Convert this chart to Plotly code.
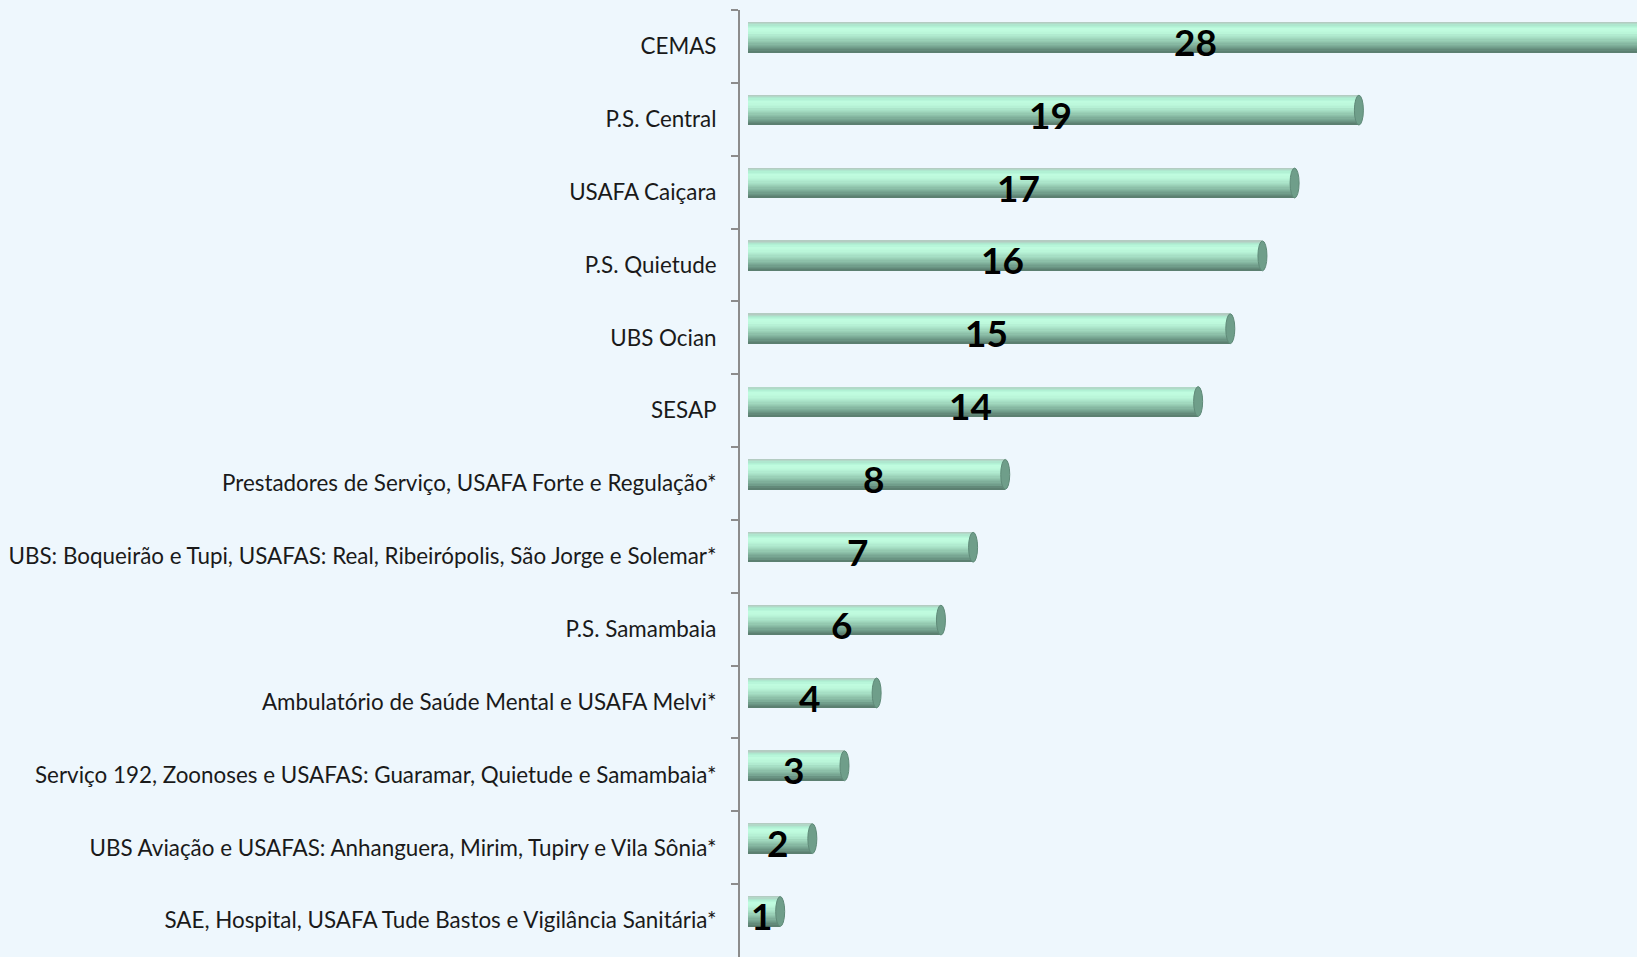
import plotly.graph_objects as go

categories = [
    "CEMAS",
    "P.S. Central",
    "USAFA Caiçara",
    "P.S. Quietude",
    "UBS Ocian",
    "SESAP",
    "Prestadores de Serviço, USAFA Forte e Regulação*",
    "UBS: Boqueirão e Tupi, USAFAS: Real, Ribeirópolis, São Jorge e Solemar*",
    "P.S. Samambaia",
    "Ambulatório de Saúde Mental e USAFA Melvi*",
    "Serviço 192, Zoonoses e USAFAS: Guaramar, Quietude e Samambaia*",
    "UBS Aviação e USAFAS: Anhanguera, Mirim, Tupiry e Vila Sônia*",
    "SAE, Hospital, USAFA Tude Bastos e Vigilância Sanitária*",
]
values = [28, 19, 17, 16, 15, 14, 8, 7, 6, 4, 3, 2, 1]
value_labels = [str(v) for v in values]

# cylinder shading key colours, top to bottom
key_colors = [
    (0xb4, 0xcc, 0xc2), (0xae, 0xee, 0xd2), (0xc0, 0xfd, 0xe0), (0xbc, 0xf8, 0xdb),
    (0xb0, 0xea, 0xcf), (0xa2, 0xda, 0xc0), (0x92, 0xc6, 0xae), (0x80, 0xb0, 0x9b),
    (0x6e, 0x9a, 0x88), (0x5c, 0x80, 0x71),
]
N_STRIPS = 24


def shade(t):
    pos = t * (len(key_colors) - 1)
    i = min(int(pos), len(key_colors) - 2)
    f = pos - i
    a, b = key_colors[i], key_colors[i + 1]
    return "rgb(%d,%d,%d)" % tuple(round(a[k] + (b[k] - a[k]) * f) for k in range(3))


strip_colors = [shade(i / (N_STRIPS - 1)) for i in range(N_STRIPS)]
BAR_W = 0.41
BAR_CENTER_SHIFT = -0.125  # up (axis reversed)
bar_top = BAR_CENTER_SHIFT - BAR_W / 2
strip_w = BAR_W / N_STRIPS

fig = go.Figure()
for i, col in enumerate(strip_colors):
    w = strip_w * (1.6 if i < N_STRIPS - 1 else 1.0)
    fig.add_trace(go.Bar(
        x=values, y=categories, orientation="h",
        width=w, offset=bar_top + i * strip_w,
        marker=dict(color=col, line=dict(width=0)),
        hoverinfo="skip", showlegend=False,
    ))

# end caps (ellipses) at bar ends
cap_rx = 0.14
shapes = []
for idx, v in enumerate(values):
    shapes.append(dict(
        type="circle", xref="x", yref="y",
        x0=v - cap_rx, x1=v + cap_rx,
        y0=idx + bar_top, y1=idx + bar_top + BAR_W,
        fillcolor="#6f9e8a", line=dict(color="#5f8a78", width=1),
        layer="above",
    ))

annotations = []
for idx, (v, lab) in enumerate(zip(values, value_labels)):
    annotations.append(dict(
        x=v / 2, y=categories[idx], xref="x", yref="y",
        text="<b>" + lab + "</b>", showarrow=False,
        font=dict(family="Lato", size=37, color="#000000"),
        xanchor="center", yanchor="middle", yshift=5, xshift=-3,
    ))

fig.update_layout(
    width=1637, height=957,
    margin=dict(l=740, r=0, t=10, b=0),
    paper_bgcolor="#eef7fd", plot_bgcolor="#eef7fd",
    barmode="overlay", bargap=0,
    shapes=shapes, annotations=annotations,
    font=dict(family="Lato", color="#1a1a1a"),
)
fig.update_xaxes(range=[-0.25, 27.65], visible=False, showgrid=False, zeroline=False)
fig.update_yaxes(
    autorange="reversed", type="category",
    categoryorder="array", categoryarray=categories,
    showline=True, linecolor="#8c8c8c", linewidth=2,
    ticks="outside", ticklen=7, tickwidth=2, tickcolor="#8c8c8c",
    tickson="boundaries", showgrid=False,
    tickfont=dict(family="Lato", size=22.4, color="#1a1a1a"),
    ticklabelstandoff=17,
)

fig.write_html(
    "out.html",
    config={"displayModeBar": False},
    post_script="document.body.style.margin='0';document.body.style.overflow='hidden';"
                "document.documentElement.style.overflow='hidden';",
)
